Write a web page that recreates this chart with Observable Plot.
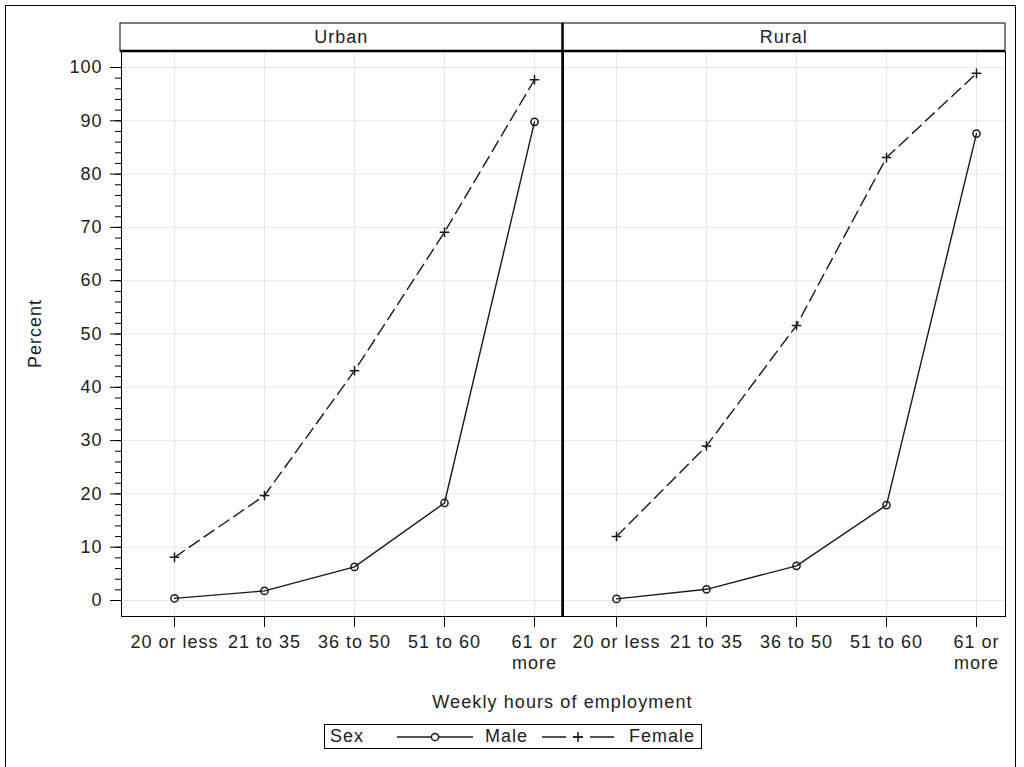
<!DOCTYPE html>
<html>
<head>
<meta charset="utf-8">
<script src="https://cdn.jsdelivr.net/npm/d3@7"></script>
<script src="https://cdn.jsdelivr.net/npm/@observablehq/plot@0.6"></script>
<style>
  body { margin: 0; background: #fff; font-family: "Liberation Sans", Arial, sans-serif; }
  #wrap { position: relative; width: 1024px; height: 767px; overflow: hidden; background: #fff; }
  #outer { position: absolute; left: 5px; top: 5px; width: 1011px; height: 800px; border: 1px solid #000; box-sizing: border-box; }
  #chart { position: absolute; left: 0; top: 0; }
  #xlabel { position: absolute; left: 120px; width: 885px; top: 692px; text-align: center; font-size: 18px; letter-spacing: 1.1px; color: #222; }
  #legend { position: absolute; left: 324px; top: 724px; width: 378px; height: 25px; border: 1px solid #000; box-sizing: border-box; font-size: 18px; letter-spacing: 1px; color: #222; }
  #legend span { position: absolute; top: 1px; }
  #legend svg { position: absolute; top: 0; }
</style>
</head>
<body>
<div id="wrap">
  <div id="outer"></div>
  <div id="chart"></div>
  <div id="xlabel">Weekly hours of employment</div>
  <div id="legend"></div>
</div>
<script>
// ---- data ----
const areas = ["Urban", "Rural"];
const hours = ["20 or less", "21 to 35", "36 to 50", "51 to 60", "61 or more"];
const hourLabels = ["20 or less", "21 to 35", "36 to 50", "51 to 60", "61 or\nmore"];
const sexes = ["Male", "Female"];
const urbanMale   = [0.4, 1.8, 6.3, 18.3, 89.8];
const urbanFemale = [8.1, 19.7, 43.1, 69.1, 97.7];
const ruralMale   = [0.3, 2.1, 6.5, 17.9, 87.6];
const ruralFemale = [12.0, 29.0, 51.6, 83.1, 98.9];
const yTicks = [0, 10, 20, 30, 40, 50, 60, 70, 80, 90, 100];
const yMinorTicks = d3.range(0, 101, 2);

(function () {
const series = [
  ["Urban", "Male", urbanMale],
  ["Urban", "Female", urbanFemale],
  ["Rural", "Male", ruralMale],
  ["Rural", "Female", ruralFemale]
];
const rows = series.flatMap(([area, sex, vals]) =>
  vals.map((v, i) => ({area, sex, hours: hours[i], pct: v})));
const male = rows.filter(d => d.sex === sexes[0]);
const female = rows.filter(d => d.sex === sexes[1]);
const labelOf = new Map(hours.map((h, i) => [h, hourLabels[i]]));

const ink = "#1a1a1a";
const gridColor = "#e8e8e8";

const plot = Plot.plot({
  width: 1024,
  height: 716,
  marginLeft: 120,
  marginRight: 19,
  marginTop: 51,
  marginBottom: 100,
  style: {fontFamily: '"Liberation Sans", Arial, sans-serif', fontSize: "18px", letterSpacing: "1px", color: "#000", background: "transparent", overflow: "visible"},
  fx: {domain: areas, paddingInner: 0, paddingOuter: 0, axis: null, label: null},
  x: {type: "point", domain: hours, padding: 0.434, align: 0.65, label: null},
  y: {domain: [-3, 103], label: null},
  marks: [
    Plot.gridX(hours, {stroke: gridColor, strokeOpacity: 1}),
    Plot.gridY(yTicks, {stroke: gridColor, strokeOpacity: 1}),
    Plot.axisY(yMinorTicks, {tickSize: 6, tickFormat: () => "", label: null, stroke: "#000"}),
    Plot.axisY(yTicks, {tickSize: 11, tickPadding: 8, label: null, stroke: "#000", fill: "#222"}),
    Plot.axisX(hours, {tickSize: 11, tickPadding: 6, tickFormat: d => labelOf.get(d), lineHeight: 1.15, label: null, stroke: "#000", fill: "#222"}),
    Plot.line(male, {fx: "area", x: "hours", y: "pct", stroke: ink, strokeWidth: 1.4}),
    Plot.line(female, {fx: "area", x: "hours", y: "pct", stroke: ink, strokeWidth: 1.4, strokeDasharray: "12,6"}),
    Plot.dot(male, {fx: "area", x: "hours", y: "pct", symbol: "circle", r: 3.6, stroke: ink, fill: "none", strokeWidth: 1.5}),
    Plot.dot(female, {fx: "area", x: "hours", y: "pct", symbol: "plus", r: 3.2, stroke: ink, fill: "none", strokeWidth: 1.5}),
    Plot.frame({stroke: "#000", strokeWidth: 1})
  ]
});
document.getElementById("chart").appendChild(plot);

// ---- panel headers, divider, y label ----
const svg = d3.select(plot);
const fxs = plot.scale("fx");
const band = d3.scaleBand().domain(fxs.domain).range(fxs.range).paddingInner(0).paddingOuter(0);
const yS = plot.scale("y");
const yScale = d3.scaleLinear().domain(yS.domain).range(yS.range);
const plotTop = yScale(yS.domain[1]);
const plotBottom = yScale(yS.domain[0]);
const headerH = 28;
const g = svg.append("g");
for (const a of areas) {
  g.append("rect")
    .attr("x", band(a)).attr("y", plotTop - headerH)
    .attr("width", band.bandwidth()).attr("height", headerH)
    .attr("fill", "#fff").attr("stroke", "#000").attr("stroke-width", 1);
  g.append("text")
    .attr("x", band(a) + band.bandwidth() / 2).attr("y", plotTop - headerH / 2)
    .attr("dy", "0.35em").attr("text-anchor", "middle")
    .attr("fill", "#222").text(a);
}
g.append("line")
  .attr("x1", band.range()[0]).attr("x2", band.range()[1])
  .attr("y1", plotTop).attr("y2", plotTop)
  .attr("stroke", "#000").attr("stroke-width", 2.5);
for (const a of areas.slice(1)) {
  g.append("line")
    .attr("x1", band(a)).attr("x2", band(a))
    .attr("y1", plotTop - headerH).attr("y2", plotBottom)
    .attr("stroke", "#000").attr("stroke-width", 2.5);
}
svg.append("text")
  .attr("transform", `translate(35,${(plotTop + plotBottom) / 2}) rotate(-90)`)
  .attr("text-anchor", "middle").attr("dy", "0.35em")
  .attr("fill", "#222").text("Percent");

// ---- legend ----
const leg = d3.select("#legend");
leg.append("span").style("left", "5px").text("Sex");
const s1 = leg.append("svg").attr("width", 76).attr("height", 23).style("left", "72px");
s1.append("line").attr("x1", 0).attr("x2", 76).attr("y1", 12).attr("y2", 12).attr("stroke", ink).attr("stroke-width", 1.4);
s1.append("circle").attr("cx", 38).attr("cy", 12).attr("r", 3.6).attr("fill", "#fff").attr("stroke", ink).attr("stroke-width", 1.5);
leg.append("span").style("left", "160px").text(sexes[0]);
const s2 = leg.append("svg").attr("width", 72).attr("height", 23).style("left", "217px");
s2.append("line").attr("x1", 0).attr("x2", 72).attr("y1", 12).attr("y2", 12).attr("stroke", ink).attr("stroke-width", 1.4).attr("stroke-dasharray", "24,7,10,7,24");
s2.append("path").attr("d", "M-5,0H5M0,-5V5").attr("transform", "translate(36,12)").attr("fill", "none").attr("stroke", ink).attr("stroke-width", 1.5);
leg.append("span").style("left", "304px").text(sexes[1]);
})();
</script>
</body>
</html>
